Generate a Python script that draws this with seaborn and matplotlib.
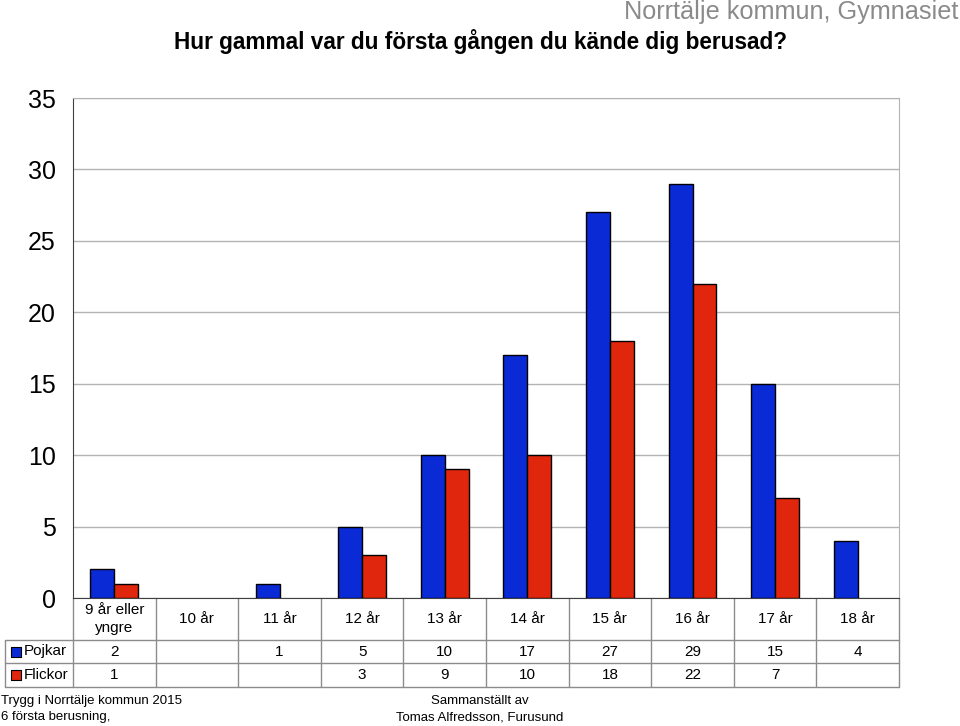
import numpy as np
import pandas as pd
import seaborn as sns
import matplotlib.pyplot as plt

sns.set_style('white')
plt.rcParams['font.family'] = ['Liberation Sans', 'DejaVu Sans']
plt.rcParams['text.color'] = 'black'
plt.rcParams['ytick.color'] = '#404040'
plt.rcParams['ytick.labelcolor'] = 'black'

categories = ['9 år eller\nyngre', '10 år', '11 år', '12 år', '13 år',
              '14 år', '15 år', '16 år', '17 år', '18 år']
pojkar = [2, np.nan, 1, 5, 10, 17, 27, 29, 15, 4]
flickor = [1, np.nan, np.nan, 3, 9, 10, 18, 22, 7, np.nan]
series = ['Pojkar', 'Flickor']
colors = ['#0a2ad6', '#e0260c']

df = pd.DataFrame({'kat': categories * 2,
                   'grupp': ['Pojkar'] * len(categories) + ['Flickor'] * len(categories),
                   'antal': pojkar + flickor}).dropna()

fig = plt.figure(figsize=(9.6, 7.26), dpi=100)
ax = fig.add_axes([73 / 960, 1 - 598 / 726, 826 / 960, 500 / 726])

sns.barplot(data=df, x='kat', y='antal', hue='grupp', order=categories,
            hue_order=series, palette=colors, saturation=1, width=0.58,
            edgecolor='black', linewidth=1, errorbar=None, legend=False,
            ax=ax, zorder=3)

ax.set_ylim(0, 35)
ax.set_xlim(-0.5, len(categories) - 0.5)
ax.set_yticks(range(0, 36, 5))
ax.set_yticklabels([str(v) for v in range(0, 36, 5)], fontsize=18)
ax.tick_params(axis='y', direction='out', length=5.8, width=1, pad=6.5)
ax.set_xticks([])
ax.set_xlabel('')
ax.set_ylabel('')
ax.yaxis.grid(True, color='#b3b3b3', linewidth=1)
ax.set_axisbelow(True)
for side in ['top', 'right']:
    ax.spines[side].set_color('#b3b3b3')
for side in ['left', 'bottom']:
    ax.spines[side].set_color('#404040')

# data table under the bars (x in category units, y in axes fraction)
tr = ax.get_xaxis_transform()
n = len(categories)
x_left = -0.5 - 68 / 82.6
y_head, y_p, y_f = -42 / 500, -65 / 500, -89 / 500
grid_kw = dict(color='#8c8c8c', linewidth=1, transform=tr, clip_on=False, zorder=1)
for y in [y_head, y_p, y_f]:
    ax.plot([x_left, n - 0.5], [y, y], **grid_kw)
ax.plot([x_left, x_left], [y_head, y_f], **grid_kw)
for i in range(n + 1):
    ax.plot([i - 0.5, i - 0.5], [0, y_f], **grid_kw)

def fmt(v):
    return '' if np.isnan(v) else f'{v:.0f}'

for i, lab in enumerate(categories):
    ax.text(i, y_head / 2, lab, transform=tr, ha='center', va='center',
            fontsize=11, linespacing=1.3)
    ax.text(i, (y_head + y_p) / 2, fmt(pojkar[i]), transform=tr,
            ha='center', va='center', fontsize=11)
    ax.text(i, (y_p + y_f) / 2, fmt(flickor[i]), transform=tr,
            ha='center', va='center', fontsize=11)

for j, (name, col) in enumerate(zip(series, colors)):
    yc = [(y_head + y_p) / 2, (y_p + y_f) / 2][j]
    ax.scatter([x_left + 0.13], [yc], transform=tr, marker='s', s=60, color=col,
               edgecolor='black', linewidth=0.8, clip_on=False, zorder=5)
    ax.text(x_left + 0.23, yc, name, transform=tr, ha='left', va='center', fontsize=11)

fig.text(480 / 960, 1 - 42 / 726, 'Hur gammal var du första gången du kände dig berusad?',
         ha='center', va='center', fontsize=16.3, fontweight='bold')
fig.text(958 / 960, 1 - 12 / 726, 'Norrtälje kommun, Gymnasiet', ha='right', va='center',
         fontsize=18.2, color='#8a8a8a')
fig.text(1 / 960, 1 - 709 / 726, 'Trygg i Norrtälje kommun 2015\n6 första berusning,',
         ha='left', va='center', fontsize=9.5, linespacing=1.45)
fig.text(480 / 960, 1 - 709 / 726, 'Sammanställt av\nTomas Alfredsson, Furusund',
         ha='center', va='center', fontsize=9.5, linespacing=1.45)

fig.savefig('out.png', dpi=100)
